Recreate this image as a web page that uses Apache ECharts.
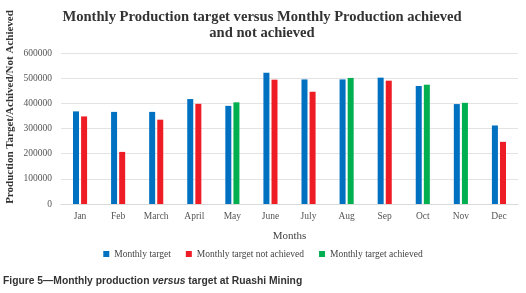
<!DOCTYPE html>
<html>
<head>
<meta charset="utf-8">
<script src="https://cdn.jsdelivr.net/npm/echarts@6/dist/echarts.min.js"></script>
<style>
	html, body { margin: 0; padding: 0; background: #fff; }
	#chart { width: 526px; height: 293px; }
</style>
</head>
<body>
<div id="chart"></div>
<script>
var months = ['Jan', 'Feb', 'March', 'April', 'May', 'June', 'July', 'Aug', 'Sep', 'Oct', 'Nov', 'Dec'];
var target = [368000, 366000, 366000, 417000, 390000, 522000, 495000, 495000, 502000, 469000, 397000, 312000];
var notAchieved = [348000, 207000, 335000, 398000, null, 494000, 446000, null, 490000, null, null, 247000];
var achieved = [null, null, null, null, 404000, null, null, 501000, null, 474000, 402000, null];
var yTicks = [0, 100000, 200000, 300000, 400000, 500000, 600000];

var serif = '"Liberation Serif", "DejaVu Serif", serif';
var sans = '"Liberation Sans", Arial, sans-serif';

var myChart = echarts.init(document.getElementById('chart'));
var option = {
	backgroundColor: '#fff',
	animation: false,
	title: {
		text: 'Monthly Production target versus Monthly Production achieved\nand not achieved',
		left: 257,
		textAlign: 'center',
		top: 4,
		textStyle: {
			fontFamily: serif,
			fontWeight: 'bold',
			fontSize: 14.6,
			lineHeight: 16,
			color: '#333'
		}
	},
	grid: {
		left: 61,
		right: 8,
		top: 53,
		bottom: 89
	},
	legend: {
		bottom: 29,
		left: 'center',
		icon: 'rect',
		itemWidth: 6,
		itemHeight: 6,
		itemGap: 15,
		itemStyle: { borderWidth: 0 },
		textStyle: {
			fontFamily: serif,
			fontSize: 9.5,
			color: '#444'
		},
		data: ['Monthly target', 'Monthly target not achieved', 'Monthly target achieved']
	},
	xAxis: {
		type: 'category',
		data: months,
		name: 'Months',
		nameLocation: 'middle',
		nameGap: 27,
		nameTextStyle: {
			fontFamily: serif,
			fontSize: 11,
			color: '#444'
		},
		axisTick: { show: false },
		axisLine: {
			lineStyle: { color: '#d9d9d9' }
		},
		axisLabel: {
			fontFamily: serif,
			fontSize: 9.5,
			color: '#555',
			margin: 7
		}
	},
	yAxis: {
		type: 'value',
		min: yTicks[0],
		max: yTicks[yTicks.length - 1],
		interval: yTicks[1] - yTicks[0],
		axisLine: { show: false },
		axisTick: { show: false },
		splitLine: {
			lineStyle: { color: '#e3e3e3' }
		},
		axisLabel: {
			fontFamily: serif,
			fontSize: 9.5,
			color: '#555',
			margin: 9,
			formatter: function(v) {
				return String(v);
			}
		}
	},
	graphic: [{
		type: 'text',
		x: 10,
		y: 107,
		rotation: Math.PI / 2,
		style: {
			text: 'Production Target/Achived/Not Achieved',
			font: 'bold 11px ' + serif,
			fill: '#333',
			align: 'center',
			verticalAlign: 'middle'
		}
	}, {
		type: 'text',
		left: 3,
		top: 276,
		style: {
			text: '{a|Figure 5\u2014Monthly production }{b|versus}{a| target at Ruashi Mining}',
			rich: {
				a: { fontFamily: sans, fontWeight: 'bold', fontSize: 10.3, fill: '#333' },
				b: { fontFamily: sans, fontWeight: 'bold', fontStyle: 'italic', fontSize: 10.3, fill: '#333' }
			}
		}
	}],
	series: [{
		name: 'Monthly target',
		type: 'bar',
		barWidth: 6,
		barGap: '35%',
		itemStyle: { color: '#0070C0' },
		data: target
	}, {
		name: 'Monthly target not achieved',
		type: 'bar',
		stack: 'res',
		barWidth: 6,
		itemStyle: { color: '#EE1C25' },
		data: notAchieved
	}, {
		name: 'Monthly target achieved',
		type: 'bar',
		stack: 'res',
		barWidth: 6,
		itemStyle: { color: '#00B050' },
		data: achieved
	}]
};
myChart.setOption(option);
</script>
</body>
</html>
